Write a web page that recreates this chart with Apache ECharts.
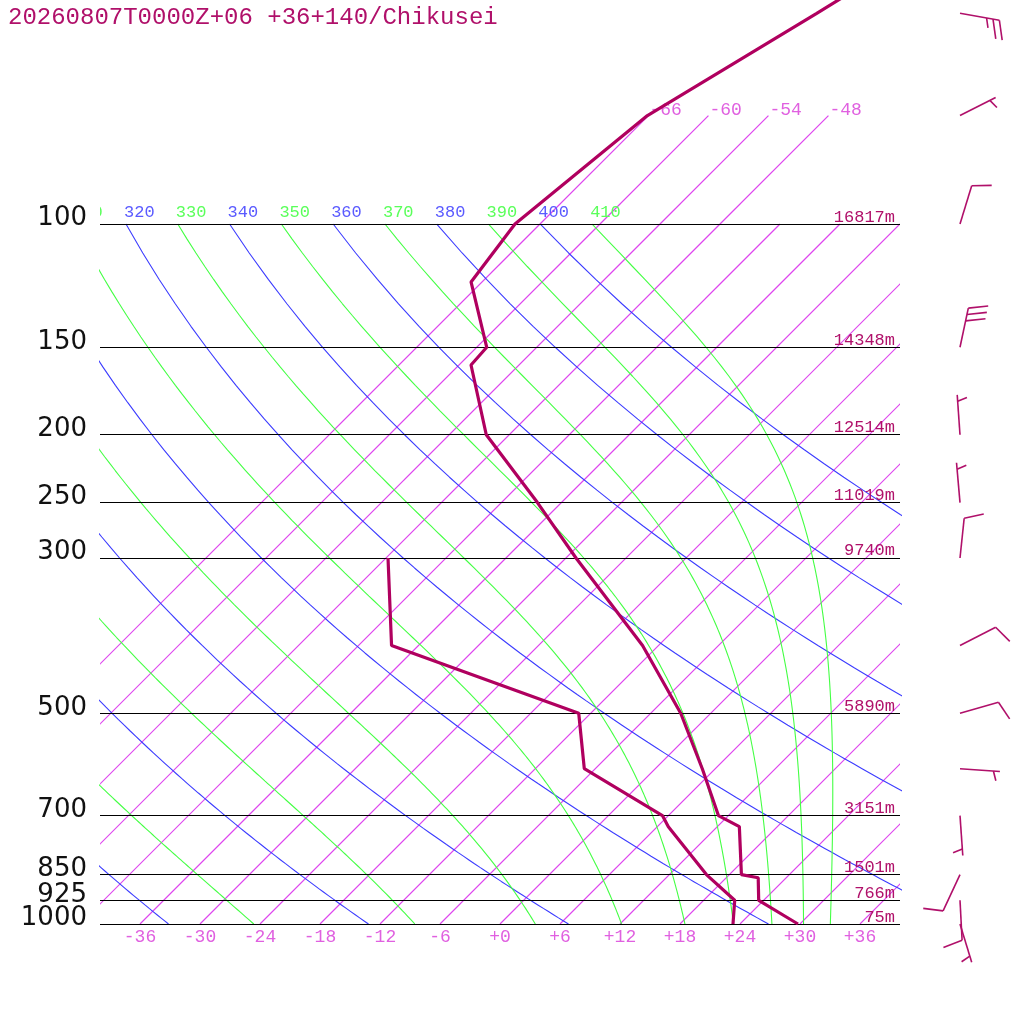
<!DOCTYPE html>
<html>
<head>
<meta charset="utf-8">
<script src="https://cdn.jsdelivr.net/npm/echarts@6/dist/echarts.min.js"></script>
<style>
html, body { margin: 0; padding: 0; background: #fff; }
#chart { width: 1024px; height: 1024px; }
</style>
</head>
<body>
<div id="chart"></div>
<script>
const titleText = '20260807T0000Z+06 +36+140/Chikusei'

// sounding (hPa, degC)
const tempPres = [1000, 925, 859, 850, 726, 700, 600, 500, 400, 300, 250, 200, 159, 150, 121, 100, 70, 50, 30]
const tempVals = [29.8, 23.5, 21.2, 19.2, 14.2, 11.0, 4.7, -3.0, -13.6, -29.0, -38.4, -50.3, -58.8, -59.0, -67.1, -68.5, -66.1, -59.4, -49.6]
const dewPres = [1000, 925, 850, 726, 700, 600, 500, 400, 300]
const dewVals = [23.3, 21.1, 15.7, 7.1, 5.4, -7.1, -13.2, -38.7, -47.8]

// standard levels and their heights
const stdLevels = [100, 150, 200, 250, 300, 500, 700, 850, 925, 1000]
const heights = ['16817m', '14348m', '12514m', '11019m', '9740m', '5890m', '3151m', '1501m', '766m', '75m']

// winds: direction (deg, from) and speed (kt)
const windPres = [50, 70, 100, 150, 200, 250, 300, 400, 500, 600, 700, 850, 925, 1000]
const windDir = [100, 63, 17, 12, 356, 355, 6, 63, 74, 94, 176, 205, 177, 163]
const windKt = [25, 5, 10, 30, 5, 5, 10, 10, 10, 5, 5, 10, 10, 5]

// background lines
const isotherms = [-66, -60, -54, -48, -42, -36, -30, -24, -18, -12, -6, 0, 6, 12, 18, 24, 30, 36]
const stratoIsotherms = [-66, -60, -54, -48]
const tempTicks = [-36, -30, -24, -18, -12, -6, 0, 6, 12, 18, 24, 30, 36]
const thetas = [240, 260, 280, 300, 320, 340, 360, 380, 400]
const thetaEs = [250, 270, 290, 310, 330, 350, 370, 390, 410]

const SKEW = 70       // degC of shift per decade of pressure
const KAPPA = 0.2857
const P_TOP = 47.86   // pressure at the top edge of the plot
const X_MIN = -40
const X_MAX = 40
const BARB_X = 46

const cMag = '#b0005f'
const cText = '#b0106a'
const cIso = 'rgba(222,70,238,1)'
const cIsoText = '#e060e0'
const cDry = 'rgb(60,60,255)'
const cMoist = 'rgb(68,255,68)'

function skewX(t, p) { return t + SKEW * Math.log10(1000 / p) }

const pSteps = []
for (let p = 100; p <= 1000; p += 10) pSteps.push(p)

function dryLine(theta) {
  return pSteps.map(p => [skewX(theta * Math.pow(p / 1000, KAPPA) - 273.15, p), p])
}
function satMix(tk, p) {
  const tc = tk - 273.15
  const es = 6.112 * Math.exp(17.67 * tc / (tc + 243.5))
  return 0.622 * es / (p - es)
}
function moistRate(tk, p) {
  const rs = satMix(tk, p)
  return (287.04 * tk + 2.501e6 * rs) / (1005.7 + 2.501e6 * 2.501e6 * rs * 0.622 / (287.04 * tk * tk)) / p
}
function moistLine(thetaE) {
  let p = 100
  let tk = thetaE * Math.pow(p / 1000, KAPPA)
  const pts = [[skewX(tk - 273.15, p), p]]
  const dp = 5
  while (p < 1000) {
    const k1 = moistRate(tk, p)
    const k2 = moistRate(tk + dp / 2 * k1, p + dp / 2)
    const k3 = moistRate(tk + dp / 2 * k2, p + dp / 2)
    const k4 = moistRate(tk + dp * k3, p + dp)
    tk += dp / 6 * (k1 + 2 * k2 + 2 * k3 + k4)
    p += dp
    pts.push([skewX(tk - 273.15, p), p])
  }
  return pts
}

function thinLine(data, color, width) {
  return {
    type: 'line', data: data, showSymbol: false, silent: true, z: 1,
    color: color, itemStyle: { color: color },
    lineStyle: { color: color, width: width }, clip: true
  }
}

const series = []
thetas.forEach(th => series.push(thinLine(dryLine(th), cDry, 1.1)))
thetaEs.forEach(th => series.push(thinLine(moistLine(th), cMoist, 1.1)))

// isotherms: 1000-100 hPa, the coldest ones carried on to 70 hPa
const isoSegs = isotherms.map(t => [t, 1000, 100]).concat(stratoIsotherms.map(t => [t, 100, 70]))
series.push({
  type: 'custom', silent: true, clip: true, z: 1,
  data: isoSegs,
  renderItem: function (params, api) {
    const t = api.value(0), pb = api.value(1), pt = api.value(2)
    const a = api.coord([skewX(t, pb), pb])
    const b = api.coord([skewX(t, pt), pt])
    return {
      type: 'line',
      shape: { x1: a[0], y1: a[1], x2: b[0], y2: b[1] },
      style: { stroke: cIso, lineWidth: 1.2, opacity: 1 }
    }
  }
})

// labels on the background lines, clipped to the plot
const labelList = []
const labelPts = []
thetas.forEach(th => {
  labelList.push({ text: String(th), color: '#5a5aff', kind: 'theta' })
  labelPts.push([skewX(th * Math.pow(0.1, KAPPA) - 273.15, 100), 100])
})
thetaEs.forEach(th => {
  labelList.push({ text: String(th), color: '#5aff5a', kind: 'theta' })
  labelPts.push([skewX(th * Math.pow(0.1, KAPPA) - 273.15, 100), 100])
})
stratoIsotherms.forEach(t => {
  labelList.push({ text: String(t), color: cIsoText, kind: 'iso' })
  labelPts.push([skewX(t, 70), 70])
})

series.push({
  type: 'custom', silent: true, clip: true, z: 3,
  data: labelPts,
  renderItem: function (params, api) {
    const pt = api.coord([api.value(0), api.value(1)])
    const lb = labelList[params.dataIndex]
    const iso = lb.kind === 'iso'
    return {
      type: 'text',
      x: pt[0] + (iso ? 1 : -2),
      y: pt[1] - (iso ? 5 : 3),
      style: {
        text: lb.text, fill: lb.color,
        font: (iso ? 18 : 17) + 'px "Liberation Mono"',
        align: 'left', verticalAlign: iso ? 'middle' : 'bottom'
      }
    }
  }
})

// pressure lines
series.push({
  type: 'line', data: [], z: 4, silent: true,
  markLine: {
    silent: true, symbol: ['none', 'none'], animation: false,
    lineStyle: { color: '#000', width: 1.2, type: 'solid' },
    label: { show: false },
    data: stdLevels.map(p => ({ yAxis: p }))
  }
})

// pressure labels left of the plot, heights at its right end
series.push({
  type: 'custom', silent: true, clip: false, z: 5,
  data: stdLevels.map(p => [p]),
  renderItem: function (params, api) {
    const p = api.value(0)
    const l = api.coord([X_MIN, p])
    const r = api.coord([X_MAX, p])
    return {
      type: 'group',
      children: [{
        type: 'text', x: l[0] - 13, y: l[1] - 5.5,
        style: { text: String(p), fill: '#111', font: '26px "DejaVu Sans"', align: 'right', verticalAlign: 'middle' }
      }, {
        type: 'text', x: r[0] - 5, y: r[1] - 7,
        style: { text: heights[params.dataIndex], fill: cText, font: '17px "Liberation Mono"', align: 'right', verticalAlign: 'middle' }
      }]
    }
  }
})

// sounding
series.push({
  type: 'line', z: 6, silent: true, showSymbol: false, clip: true,
  data: tempPres.map((p, i) => [skewX(tempVals[i], p), p]),
  lineStyle: { color: cMag, width: 3.2 }
})
series.push({
  type: 'line', z: 6, silent: true, showSymbol: false, clip: true,
  data: dewPres.map((p, i) => [skewX(dewVals[i], p), p]),
  lineStyle: { color: cMag, width: 3.2 }
})

// wind barbs
series.push({
  type: 'custom', silent: true, clip: false, z: 6,
  data: windPres.map((p, i) => [p, windDir[i], windKt[i]]),
  renderItem: function (params, api) {
    const p = api.value(0), dir = api.value(1), kt = api.value(2)
    const root = api.coord([BARB_X, p])
    const a = dir * Math.PI / 180, b = (dir + 72) * Math.PI / 180
    const d = [Math.sin(a), -Math.cos(a)]
    const f = [Math.sin(b), -Math.cos(b)]
    const tip = [root[0] + 40 * d[0], root[1] + 40 * d[1]]
    const style = { stroke: cText, lineWidth: 1.6 }
    const kids = [{ type: 'line', shape: { x1: root[0], y1: root[1], x2: tip[0], y2: tip[1] }, style: style }]
    const full = Math.floor(kt / 10)
    const half = kt % 10 >= 5
    let idx = (full === 0 && half) ? 1 : 0
    const barb = len => {
      const sx = tip[0] - idx * 6.5 * d[0], sy = tip[1] - idx * 6.5 * d[1]
      kids.push({ type: 'line', shape: { x1: sx, y1: sy, x2: sx + len * f[0], y2: sy + len * f[1] }, style: style })
      idx++
    }
    for (let i = 0; i < full; i++) barb(20)
    if (half) barb(10)
    return { type: 'group', children: kids }
  }
})

const chart = echarts.init(document.getElementById('chart'), null, { renderer: 'canvas' })
chart.setOption({
  animation: false,
  backgroundColor: '#fff',
  title: {
    text: titleText, left: 3, top: 1,
    textStyle: { fontFamily: 'Liberation Mono', fontSize: 24, fontWeight: 'normal', color: cText }
  },
  grid: { left: 100, right: 124, top: 0, bottom: 100, containLabel: false, outerBoundsMode: 'none' },
  xAxis: {
    type: 'value', min: X_MIN, max: X_MAX,
    axisLine: { show: false }, axisTick: { show: false }, splitLine: { show: false },
    axisLabel: {
      customValues: tempTicks, margin: 4,
      color: cIsoText, fontFamily: 'Liberation Mono', fontSize: 18,
      formatter: v => (v >= 0 ? '+' : '') + v
    }
  },
  yAxis: {
    type: 'log', logBase: 10, min: P_TOP, max: 1000, inverse: true,
    axisLine: { show: false }, axisTick: { show: false }, splitLine: { show: false },
    axisLabel: { show: false }
  },
  series: series
})
</script>
</body>
</html>
